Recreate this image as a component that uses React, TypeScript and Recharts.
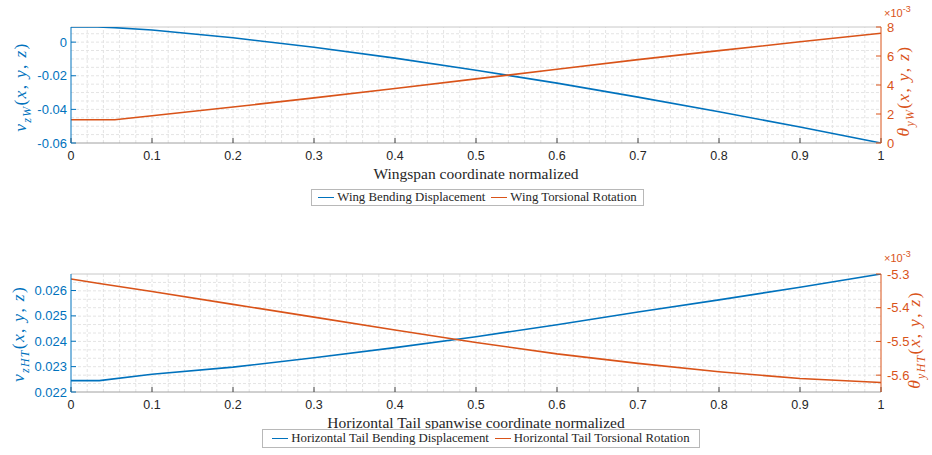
import React from 'react';
import { LineChart, Line, XAxis, YAxis, ReferenceLine } from 'recharts';

const BLUE = '#0072BD';
const ORANGE = '#D95319';
const SANS = '"Liberation Sans", Arial, sans-serif';
const SERIF = '"Liberation Serif", "Times New Roman", serif';

// wing (top panel)
const wingX = [0, 0.033, 0.054, 0.1, 0.2, 0.3, 0.4, 0.5, 0.6, 0.7, 0.8, 0.9, 1.0];
const wingBending = [0.009, 0.009, 0.0086, 0.0072, 0.0026, -0.003, -0.0095, -0.0167, -0.0244, -0.0327, -0.0414, -0.0505, -0.06];
const wingTorsion = [1.6, 1.6, 1.6, 1.88, 2.48, 3.11, 3.76, 4.42, 5.09, 5.75, 6.37, 6.98, 7.57]; // x 10^-3

// horizontal tail (bottom panel)
const tailX = [0, 0.035, 0.1, 0.2, 0.3, 0.4, 0.5, 0.6, 0.7, 0.8, 0.9, 1.0];
const tailBending = [0.02245, 0.02245, 0.0227, 0.02298, 0.02335, 0.02375, 0.02418, 0.02465, 0.02515, 0.02563, 0.02613, 0.02665];
const tailTorsion = [-5.315, -5.328, -5.352, -5.39, -5.428, -5.466, -5.503, -5.537, -5.565, -5.59, -5.61, -5.622]; // x 10^-3

const xTicks = [0, 0.1, 0.2, 0.3, 0.4, 0.5, 0.6, 0.7, 0.8, 0.9, 1];
const wingLeftTicks = [-0.06, -0.04, -0.02, 0];
const wingRightTicks = [0, 2, 4, 6, 8];
const tailLeftTicks = [0.022, 0.023, 0.024, 0.025, 0.026];
const tailRightTicks = [-5.6, -5.5, -5.4, -5.3];

const wingData = wingX.map((x, i) => ({ x, bending: wingBending[i], torsion: wingTorsion[i] }));
const tailData = tailX.map((x, i) => ({ x, bending: tailBending[i], torsion: tailTorsion[i] }));

// grid helpers (dashed minor grid like MATLAB)
const steps = (from: number, to: number, step: number) => {
  const out: number[] = [];
  const n = Math.round((to - from) / step);
  for (let i = 0; i <= n; i++) out.push(+(from + i * step).toFixed(6));
  return out;
};
const xGrid = steps(0.02, 0.98, 0.02);

const MathLabel = ({ cx, cy, base, sub, color, size = 17.5 }: any) => (
  <text
    x={cx}
    y={cy}
    transform={`rotate(-90 ${cx} ${cy})`}
    textAnchor="middle"
    fill={color}
    fontFamily={SERIF}
    fontSize={size}
    letterSpacing={1.3}
  >
    <tspan fontStyle="italic">{base}</tspan>
    <tspan fontStyle="italic" fontSize={size * 0.68} dy={size * 0.28}>{sub}</tspan>
    <tspan dy={-size * 0.28}>(</tspan>
    <tspan fontStyle="italic">x</tspan>
    <tspan>, </tspan>
    <tspan fontStyle="italic">y</tspan>
    <tspan>, </tspan>
    <tspan fontStyle="italic">z</tspan>
    <tspan>)</tspan>
  </text>
);

const Exponent = ({ x, y }: any) => (
  <text x={x} y={y} fill={ORANGE} fontFamily={SANS} fontSize={11}>
    <tspan>×10</tspan>
    <tspan fontSize={9} dy={-5}>-3</tspan>
  </text>
);

const LegendBox = ({ left, top, width, height, items }: any) => (
  <div
    style={{
      position: 'absolute',
      left,
      top,
      width,
      height,
      boxSizing: 'border-box',
      border: '1px solid #b8b8b8',
      background: '#fff',
      display: 'flex',
      alignItems: 'center',
      justifyContent: 'center',
      fontFamily: SERIF,
      fontSize: 12.8,
      color: '#262626',
      whiteSpace: 'nowrap',
    }}
  >
    {items.map((it: any, i: number) => (
      <span key={i} style={{ display: 'flex', alignItems: 'center', marginLeft: i ? 6 : 0 }}>
        <span style={{ display: 'inline-block', width: 16, borderTop: `1px solid ${it.color}`, marginRight: 3 }} />
        {it.label}
      </span>
    ))}
  </div>
);

const Panel = ({ data, height, leftDomain, rightDomain, leftTicks, rightTicks, yGrid, gridAxis, xLabel, leftLabel, rightLabel, expoY }: any) => (
  <LineChart width={932} height={height} data={data} margin={{ top: 27, right: 0, bottom: 0, left: 0 }}>
    {xGrid.map((v) => (
      <ReferenceLine key={'vx' + v} x={v} yAxisId="left" stroke="#e4e4e4" strokeDasharray="3 2" strokeWidth={1} />
    ))}
    {yGrid.map((v: number) => (
      <ReferenceLine key={'hy' + v} y={v} yAxisId={gridAxis} stroke="#e4e4e4" strokeDasharray="3 2" strokeWidth={1} />
    ))}
    <ReferenceLine y={leftDomain[1]} yAxisId="left" stroke="#c8c8c8" strokeWidth={1} />
    <XAxis
      dataKey="x"
      type="number"
      domain={[0, 1]}
      ticks={xTicks}
      height={42}
      allowDataOverflow
      stroke="#a0a0a0"
      tickSize={-5}
      tickMargin={13}
      tickLine={{ stroke: '#404040' }}
      tick={{ fill: '#262626', fontSize: 12.5, fontFamily: SANS }}
      label={{ value: xLabel, position: 'insideBottom', offset: 6, fill: '#262626', fontSize: 15.5, fontFamily: SERIF }}
    />
    <YAxis
      yAxisId="left"
      orientation="left"
      type="number"
      domain={leftDomain}
      ticks={leftTicks}
      width={71}
      allowDataOverflow
      stroke={BLUE}
      tickSize={-5}
      tickMargin={9}
      tick={{ fill: BLUE, fontSize: 13, fontFamily: SANS }}
      label={() => <MathLabel {...leftLabel} color={BLUE} />}
    />
    <YAxis
      yAxisId="right"
      orientation="right"
      type="number"
      domain={rightDomain}
      ticks={rightTicks}
      width={51}
      allowDataOverflow
      stroke={ORANGE}
      tickSize={-5}
      tickMargin={11}
      tick={{ fill: ORANGE, fontSize: 13, fontFamily: SANS, textAnchor: 'start' }}
      label={() => (
        <g>
          <Exponent x={884} y={expoY} />
          <MathLabel {...rightLabel} color={ORANGE} />
        </g>
      )}
    />
    <Line yAxisId="left" dataKey="bending" stroke={BLUE} strokeWidth={1.6} dot={false} isAnimationActive={false} />
    <Line yAxisId="right" dataKey="torsion" stroke={ORANGE} strokeWidth={1.6} dot={false} isAnimationActive={false} />
  </LineChart>
);

export default function App() {
  return (
    <div style={{ position: 'absolute', left: 0, top: 0, width: 932, height: 455, background: '#fff' }}>
      <div style={{ position: 'absolute', left: 0, top: 0 }}>
        <Panel
          data={wingData}
          height={185}
          leftDomain={[-0.06, 0.009]}
          rightDomain={[0, 8]}
          leftTicks={wingLeftTicks}
          rightTicks={wingRightTicks}
          yGrid={steps(-0.055, 0.005, 0.005)}
          gridAxis="left"
          xLabel="Wingspan coordinate normalized"
          leftLabel={{ cx: 26, cy: 87, base: 'v', sub: 'zW' }}
          rightLabel={{ cx: 909, cy: 91, base: 'θ', sub: 'yW' }}
          expoY={17}
        />
      </div>
      <LegendBox
        left={311}
        top={189}
        width={333}
        height={17}
        items={[
          { label: 'Wing Bending Displacement', color: BLUE },
          { label: 'Wing Torsional Rotation', color: ORANGE },
        ]}
      />
      <div style={{ position: 'absolute', left: 0, top: 247 }}>
        <Panel
          data={tailData}
          height={187}
          leftDomain={[0.022, 0.02665]}
          rightDomain={[-5.65, -5.3]}
          leftTicks={tailLeftTicks}
          rightTicks={tailRightTicks}
          yGrid={steps(-5.625, -5.325, 0.025)}
          gridAxis="right"
          xLabel="Horizontal Tail spanwise coordinate normalized"
          leftLabel={{ cx: 24, cy: 87, base: 'v', sub: 'zHT' }}
          rightLabel={{ cx: 920, cy: 93, base: 'θ', sub: 'yHT' }}
          expoY={15}
        />
      </div>
      <LegendBox
        left={262}
        top={429}
        width={438}
        height={19}
        items={[
          { label: 'Horizontal Tail Bending Displacement', color: BLUE },
          { label: 'Horizontal Tail Torsional Rotation', color: ORANGE },
        ]}
      />
    </div>
  );
}
